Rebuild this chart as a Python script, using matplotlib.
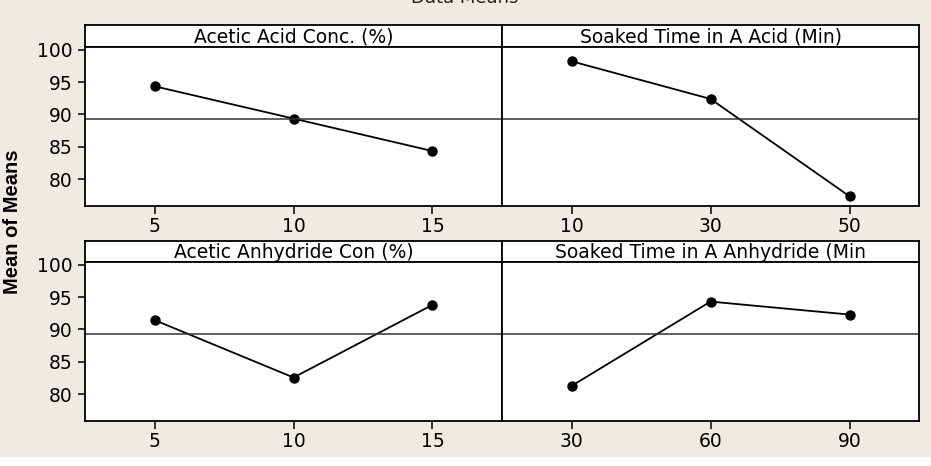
import matplotlib
matplotlib.use("Agg")
import matplotlib.pyplot as plt

# factor names and levels
titles = [
    "Acetic Acid Conc. (%)",
    "Soaked Time in A Acid (Min)",
    "Acetic Anhydride Con (%)",
    "Soaked Time in A Anhydride (Min",
]
levels = [
    ["5", "10", "15"],
    ["10", "30", "50"],
    ["5", "10", "15"],
    ["30", "60", "90"],
]
means = [
    [94.35, 89.37, 84.37],
    [98.2, 92.4, 77.4],
    [91.45, 82.6, 93.8],
    [81.3, 94.3, 92.3],
]
grand_mean = 89.33
yticks = [80, 85, 90, 95, 100]

W, H = 931, 466
bg = "#EFEBE2"


def px(x0, y0, x1, y1):
    # pixel box -> figure fraction rect
    return [x0 / W, 1 - y1 / H, (x1 - x0) / W, (y1 - y0) / H]


def main():
    fig = plt.figure(figsize=(W / 100, H / 100), dpi=100, facecolor=bg)

    cols = [(85, 502), (502, 919)]
    rows = [(25, 47, 206), (241, 262, 421)]

    for k in range(4):
        r, c = divmod(k, 2)
        x0, x1 = cols[c]
        top, hdr, bot = rows[r]

        # header strip
        hax = fig.add_axes(px(x0, top, x1, hdr))
        hax.set_xticks([])
        hax.set_yticks([])
        hax.set_facecolor("white")
        for s in hax.spines.values():
            s.set_linewidth(1.3)
        hax.text(0.5, 0.45, titles[k], ha="center", va="center", fontsize=13.5,
                 transform=hax.transAxes)

        ax = fig.add_axes(px(x0, hdr, x1, bot))
        ax.set_facecolor("white")
        xs = list(range(len(levels[k])))
        ax.plot(xs, means[k], color="black", lw=1.3, marker="o", ms=6.5)
        ax.axhline(grand_mean, color="#333333", lw=1.1)
        ax.set_xlim(-0.5, 2.5)
        ax.set_ylim(75.9, 100.4)
        ax.set_xticks(xs)
        ax.set_xticklabels(levels[k], fontsize=13.5)
        if c == 0:
            ax.set_yticks(yticks)
            ax.set_yticklabels([str(v) for v in yticks], fontsize=13.5)
        else:
            ax.set_yticks([])
        ax.tick_params(axis="x", length=6, width=1.1, pad=2)
        ax.tick_params(axis="y", length=5, width=1.1, pad=4)
        for s in ax.spines.values():
            s.set_linewidth(1.3)

    fig.text(13 / W, 1 - 222 / H, "Mean of Means", rotation=90, ha="center",
             va="center", fontsize=14.5, fontweight="bold",
             family=["Liberation Sans Narrow", "Liberation Sans", "DejaVu Sans"])

    # title cut off at the top of the image
    fig.text(465 / W, 1 - 3 / H, "Data Means", ha="center", va="baseline",
             fontsize=13, color="#222222")

    # white band at the bottom of the image
    band = fig.add_axes(px(0, 457, W, H))
    band.set_facecolor("white")
    band.axis("off")
    band.add_patch(plt.Rectangle((0, 0), 1, 1, color="white",
                                 transform=band.transAxes))

    fig.savefig("out.png", dpi=100, facecolor=bg)


if __name__ == "__main__":
    main()
